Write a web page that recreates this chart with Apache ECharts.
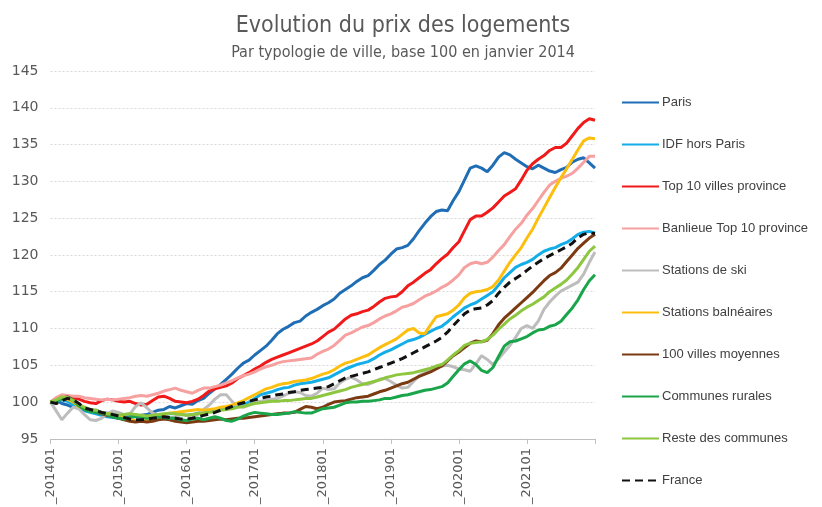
<!DOCTYPE html>
<html>
<head>
<meta charset="utf-8">
<title>Evolution du prix des logements</title>
<script src="https://cdn.jsdelivr.net/npm/echarts@6/dist/echarts.min.js"></script>
<style>
  html, body { margin: 0; padding: 0; background: #fff; }
  #chart { width: 822px; height: 507px; }
</style>
</head>
<body>
<div id="chart"></div>
<script>
// months 201401 .. 202201
const years = [2014, 2015, 2016, 2017, 2018, 2019, 2020, 2021, 2022]
const months = []
years.forEach(y => {
  for (let m = 1; m <= 12; m++) {
    if (y === 2022 && m > 1) break
    months.push(y + (m < 10 ? '0' : '') + m)
  }
})

const seriesNames = ['Paris', 'IDF hors Paris', 'Top 10 villes province', 'Banlieue Top 10 province',
  'Stations de ski', 'Stations balnéaires', '100 villes moyennes', 'Communes rurales',
  'Reste des communes', 'France']

const paris = [100,100.3,99.8,99.6,99.3,99.4,99.1,98.8,98.9,98.6,
  98.5,98.4,98.2,98.3,98.1,98.0,98.2,98.3,98.6,98.9,
  99.0,99.4,99.2,99.5,99.8,99.7,100.2,100.5,101.2,101.8,
  102.4,103.1,103.8,104.6,105.3,105.7,106.4,107.0,107.6,108.4,
  109.3,109.9,110.3,110.8,111.0,111.7,112.2,112.6,113.1,113.5,
  114.0,114.8,115.3,115.8,116.4,116.9,117.2,117.9,118.7,119.3,
  120.1,120.8,121.0,121.3,122.2,123.3,124.3,125.2,125.9,126.1,
  126.0,127.4,128.6,130.2,131.8,132.1,131.8,131.3,132.2,133.3,
  133.9,133.6,133.0,132.5,132.0,131.7,132.2,131.8,131.4,131.2,
  131.6,131.9,132.6,133.0,133.2,132.5,131.8]

const idf = [100,100.2,100.3,100.1,99.6,99.1,98.8,98.6,98.4,98.2,
  98.0,97.9,97.8,97.7,97.6,97.5,97.6,97.7,97.9,98.2,
  98.3,98.4,98.5,98.4,98.2,98.3,98.5,98.7,98.8,99.0,
  99.1,99.2,99.3,99.5,99.7,100.0,100.5,101.0,101.2,101.4,
  101.7,101.9,102.0,102.3,102.5,102.6,102.7,102.9,103.1,103.3,
  103.7,104.1,104.5,104.8,105.1,105.3,105.5,105.9,106.4,106.8,
  107.1,107.5,107.9,108.3,108.5,108.8,109.2,109.6,110.0,110.3,
  110.9,111.6,112.2,112.8,113.2,113.5,114.0,114.5,115.0,115.9,
  116.9,117.6,118.3,118.7,119.0,119.4,120.0,120.5,120.8,121.0,
  121.4,121.7,122.2,122.8,123.1,123.2,123.0]

const top10 = [100,100.5,100.8,100.7,100.6,100.4,100.1,99.9,99.8,100.2,
  100.4,100.3,100.1,100.0,100.1,99.8,99.6,99.7,100.2,100.7,
  100.8,100.5,100.1,100.0,99.9,100.1,100.4,100.9,101.5,101.8,
  102.0,102.2,102.6,103.2,103.6,104.0,104.5,104.9,105.4,105.8,
  106.1,106.4,106.7,107.0,107.3,107.6,107.9,108.3,108.9,109.5,
  109.9,110.6,111.3,111.8,112.0,112.3,112.5,113.0,113.6,114.1,
  114.3,114.4,115.0,115.8,116.3,116.9,117.5,118.0,118.8,119.5,
  120.1,121.0,121.8,123.3,124.8,125.3,125.3,125.8,126.4,127.2,
  128.0,128.5,129.0,130.2,131.5,132.4,133.0,133.5,134.2,134.6,
  134.6,135.2,136.2,137.2,138.0,138.5,138.3]

const banlieue = [100,100.6,101.0,100.9,100.8,100.8,100.6,100.5,100.4,100.3,
  100.4,100.3,100.4,100.5,100.6,100.8,100.9,100.8,101.0,101.2,
  101.5,101.7,101.9,101.6,101.4,101.2,101.6,101.9,101.9,102.1,
  102.3,102.6,102.9,103.3,103.6,103.8,104.1,104.5,104.8,105.0,
  105.3,105.5,105.6,105.7,105.8,105.9,106.0,106.5,106.9,107.2,
  107.7,108.4,109.1,109.4,109.8,110.2,110.4,110.8,111.3,111.7,
  112.0,112.4,112.9,113.1,113.4,113.9,114.4,114.7,115.1,115.6,
  116.0,116.6,117.3,118.3,118.8,119.0,118.8,119.0,119.7,120.6,
  121.4,122.5,123.5,124.3,125.4,126.3,127.4,128.5,129.5,130.0,
  130.4,130.7,131.1,131.8,132.6,133.4,133.4]

const ski = [100,98.8,97.6,98.5,99.3,99.1,98.3,97.6,97.5,97.8,
  98.4,98.8,98.6,98.3,98.4,99.4,99.9,99.2,98.5,98.2,
  98.0,97.9,98.0,98.3,98.2,98.0,98.3,99.0,99.6,100.4,
  101.0,101.0,100.1,99.4,99.3,99.6,100.0,100.1,100.3,100.4,
  100.5,100.8,101.2,101.4,101.3,100.9,100.8,101.2,101.9,101.7,
  101.8,102.6,103.1,103.4,103.0,102.5,102.4,102.7,103.1,103.2,
  102.8,102.3,101.9,102.0,102.8,103.6,104.0,104.4,104.7,104.9,
  105.0,104.8,104.5,104.4,104.2,105.2,106.3,105.8,105.1,105.9,
  106.8,107.7,108.8,110.0,110.4,110.0,111.0,112.6,113.6,114.4,
  115.1,115.5,115.9,116.3,117.4,119.0,120.4]

const balneaires = [100,100.2,100.5,100.4,100.0,99.4,99.1,98.9,98.7,98.5,
  98.4,98.3,98.0,97.8,97.6,97.5,97.4,97.5,97.8,98.1,
  98.3,98.5,98.6,98.7,98.8,98.9,99.0,98.9,99.0,99.1,
  99.3,99.4,99.6,99.9,100.2,100.6,101.0,101.4,101.8,102.0,
  102.3,102.5,102.6,102.8,102.9,103.0,103.2,103.5,103.8,104.0,
  104.4,104.9,105.3,105.5,105.8,106.1,106.4,106.9,107.4,107.8,
  108.2,108.6,109.2,109.8,110.0,109.4,109.3,110.5,111.6,111.8,
  112.0,112.5,113.2,114.2,114.8,115.0,115.1,115.3,115.7,116.6,
  117.8,119.0,120.0,121.0,122.3,123.5,125.0,126.4,127.8,129.2,
  130.5,131.7,133.0,134.3,135.5,135.9,135.8]

const villesMoyennes = [100,100.2,100.6,100.7,100.3,99.6,99.0,98.8,98.6,98.4,
  98.2,98.0,97.8,97.6,97.4,97.3,97.4,97.3,97.4,97.6,
  97.7,97.6,97.4,97.3,97.2,97.3,97.4,97.4,97.5,97.6,
  97.7,97.6,97.7,97.8,97.8,97.9,98.0,98.1,98.2,98.3,
  98.4,98.5,98.5,98.6,99.0,99.4,99.3,99.1,99.3,99.7,
  100.0,100.1,100.2,100.4,100.6,100.7,100.8,101.1,101.4,101.6,
  101.9,102.2,102.5,102.7,103.1,103.5,103.8,104.1,104.5,104.9,
  105.6,106.3,106.8,107.4,108.0,108.3,108.2,108.4,109.3,110.5,
  111.4,112.1,112.8,113.5,114.2,114.9,115.7,116.5,117.2,117.6,
  118.2,119.1,120.0,120.9,121.6,122.3,122.8]

const rurales = [100,100.1,100.5,100.6,100.2,99.5,99.0,98.7,98.6,98.5,
  98.3,98.0,97.8,97.7,97.9,98.1,98.0,97.8,97.9,98.0,
  97.9,97.8,97.8,97.6,97.5,97.7,97.8,97.6,97.8,98.0,
  97.8,97.5,97.4,97.7,98.1,98.4,98.6,98.5,98.4,98.3,
  98.3,98.4,98.5,98.7,98.6,98.5,98.5,98.8,99.1,99.2,
  99.3,99.6,99.9,100.0,100.0,100.1,100.1,100.2,100.3,100.5,
  100.5,100.7,100.9,101.0,101.2,101.4,101.6,101.7,101.9,102.1,
  102.6,103.5,104.4,105.2,105.6,105.1,104.3,104.0,104.7,106.2,
  107.6,108.2,108.3,108.6,108.9,109.4,109.8,109.9,110.3,110.5,
  111.0,111.9,112.8,113.9,115.3,116.5,117.3]

const resteCommunes = [100,100.3,100.7,100.6,100.2,99.7,99.3,99.0,98.9,98.6,
  98.4,98.3,98.2,98.3,98.4,98.3,98.2,98.1,98.2,98.3,
  98.4,98.5,98.4,98.3,98.2,98.3,98.4,98.5,98.6,98.7,
  98.9,99.0,99.1,99.3,99.4,99.6,99.8,99.9,100.0,100.1,
  100.1,100.2,100.2,100.3,100.4,100.5,100.5,100.7,100.9,101.1,
  101.3,101.5,101.7,102.0,102.2,102.4,102.6,102.8,103.0,103.3,
  103.5,103.7,103.8,103.9,104.0,104.2,104.4,104.6,104.9,105.1,
  105.7,106.4,107.0,107.7,108.0,108.1,108.2,108.5,109.1,109.9,
  110.6,111.3,111.8,112.4,112.9,113.3,113.8,114.3,115.0,115.5,
  116.0,116.6,117.4,118.3,119.4,120.5,121.2]

const france = [100,99.8,100.2,100.5,100.3,99.8,99.2,99.0,98.8,98.6,
  98.4,98.3,98.1,97.9,97.7,97.6,97.6,97.7,97.8,97.9,
  98.0,97.9,97.8,97.7,97.7,97.8,98.0,98.2,98.4,98.6,
  98.9,99.1,99.4,99.7,99.9,100.1,100.3,100.5,100.7,100.8,
  101.0,101.1,101.3,101.4,101.6,101.7,101.8,101.9,102.0,102.1,
  102.5,102.9,103.3,103.5,103.7,103.9,104.1,104.4,104.7,105.0,
  105.3,105.6,105.9,106.3,106.7,107.1,107.5,107.9,108.3,108.8,
  109.5,110.4,111.2,112.0,112.5,112.7,112.8,113.2,113.8,114.8,
  115.6,116.3,116.8,117.3,117.9,118.5,119.0,119.5,119.9,120.3,
  120.7,121.1,121.6,122.3,122.8,123.0,122.9]

const seriesData = [paris, idf, top10, banlieue, ski, balneaires, villesMoyennes, rurales, resteCommunes, france]
const colors = ['#1f6eb5', '#13aee8', '#f01a1a', '#f7a0a0', '#bdbdbd', '#fdbf0f', '#7b3a12', '#1aa54b', '#8dc63f', '#111111']

const chartDom = document.getElementById('chart')
const mychart = echarts.init(chartDom)

const series = seriesNames.map((name, i) => ({
  name: name,
  type: 'line',
  data: seriesData[i],
  symbol: 'none',
  smooth: false,
  lineStyle: {
    width: 3,
    color: colors[i],
    type: name === 'France' ? [8, 5] : 'solid'
  },
  itemStyle: { color: colors[i] },
  z: name === 'France' ? 5 : 2
}))

const options = {
  backgroundColor: '#fff',
  animation: false,
  title: [
    {
      text: 'Evolution du prix des logements',
      left: 398,
      top: 10,
      textAlign: 'center',
      textStyle: {
        fontFamily: "'Liberation Sans Narrow', 'DejaVu Sans Condensed', sans-serif",
        fontSize: 23,
        fontWeight: 'normal',
        color: '#595959'
      }
    },
    {
      text: 'Par typologie de ville, base 100 en janvier 2014',
      left: 398,
      top: 40,
      textAlign: 'center',
      textStyle: {
        fontFamily: "'Liberation Sans Narrow', 'DejaVu Sans Condensed', sans-serif",
        fontSize: 16,
        fontWeight: 'normal',
        color: '#595959'
      }
    }
  ],
  legend: {
    orient: 'vertical',
    left: 621,
    top: 96,
    padding: 0,
    itemWidth: 37,
    itemHeight: 14,
    itemGap: 29,
    data: seriesNames,
    itemStyle: { opacity: 0 },
    textStyle: {
      fontFamily: "'Liberation Sans', sans-serif",
      fontSize: 13,
      color: '#404040',
      padding: [0, 0, 0, -2]
    }
  },
  grid: {
    left: 50.5,
    right: 227,
    top: 71,
    bottom: 65
  },
  xAxis: {
    type: 'category',
    data: months,
    boundaryGap: false,
    axisLine: { lineStyle: { color: '#bfbfbf', width: 1 } },
    axisTick: {
      length: 5,
      interval: (idx) => idx % 12 === 0,
      lineStyle: { color: '#bfbfbf' }
    },
    axisLabel: {
      rotate: 90,
      interval: (idx) => idx % 12 === 0 && idx < 96,
      formatter: (v) => '_' + v,
      fontFamily: "'DejaVu Sans', sans-serif",
      fontSize: 13,
      color: '#595959',
      margin: 9
    },
    splitLine: { show: false }
  },
  yAxis: {
    type: 'value',
    min: 95,
    max: 145,
    interval: 5,
    axisLine: { show: false },
    axisTick: { show: false },
    axisLabel: {
      fontFamily: "'DejaVu Sans', sans-serif",
      fontSize: 14,
      color: '#595959',
      margin: 12
    },
    splitLine: {
      lineStyle: { color: '#d9d9d9', type: [2, 2], width: 1 }
    }
  },
  series: series
}

mychart.setOption(options)
window.addEventListener('resize', () => { mychart.resize() })
</script>
</body>
</html>
